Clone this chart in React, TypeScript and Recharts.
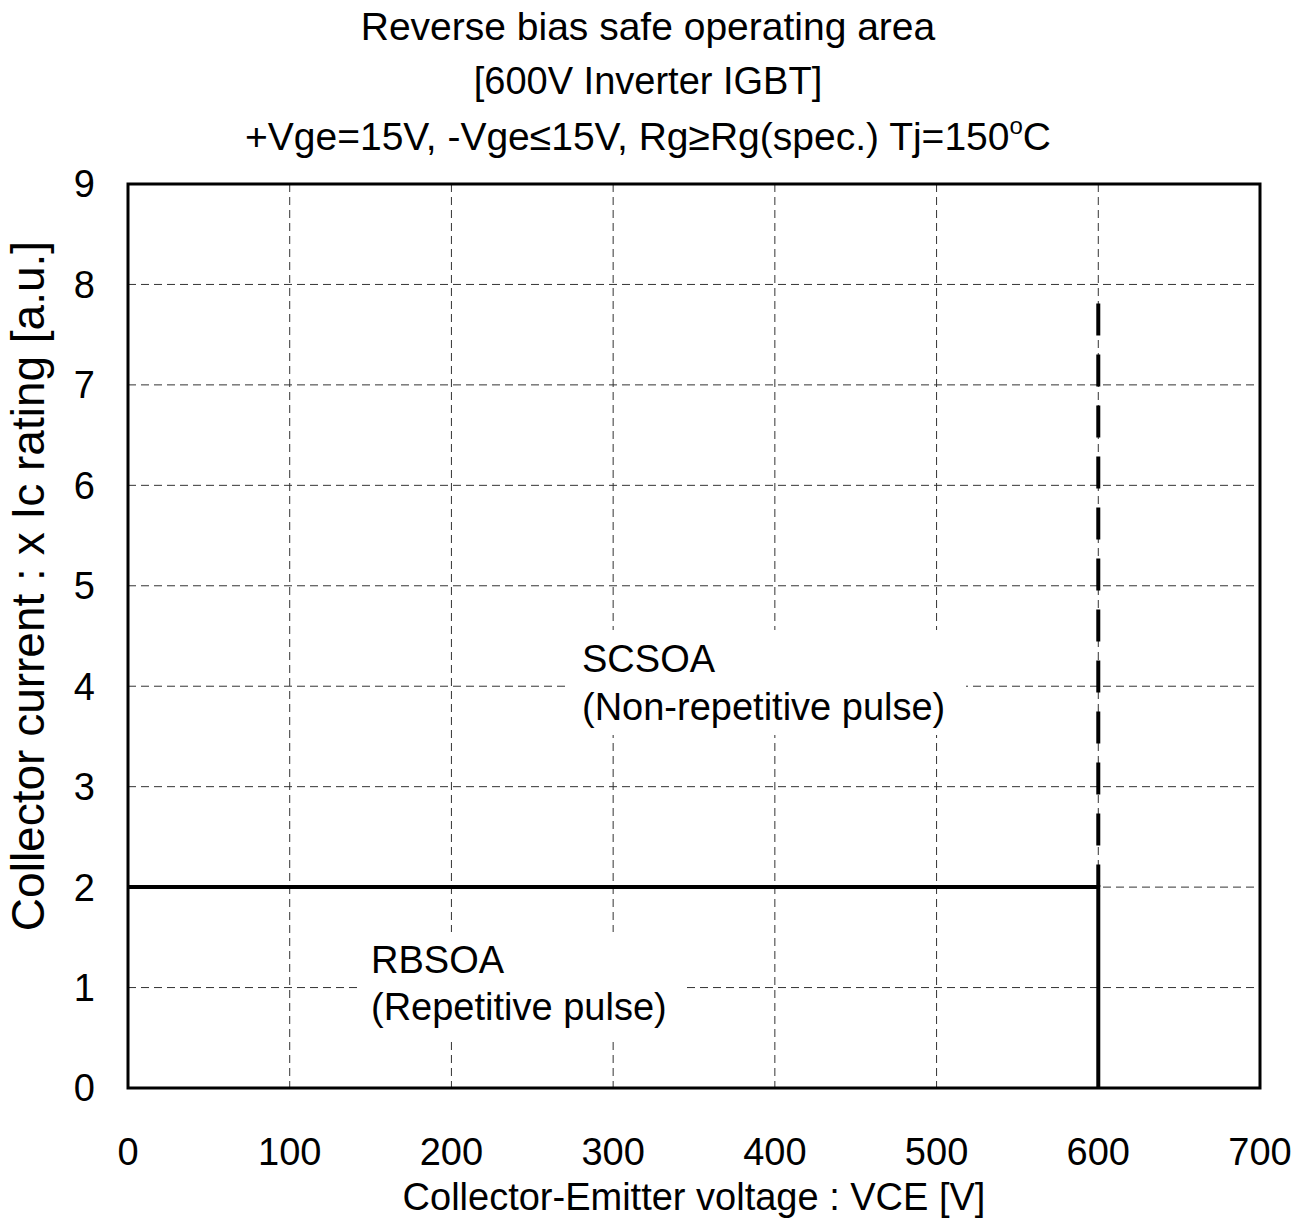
import { LineChart, Line, XAxis, YAxis, CartesianGrid, ReferenceArea, Customized } from 'recharts';

const xTicks = [0, 100, 200, 300, 400, 500, 600, 700];
const yTicks = [0, 1, 2, 3, 4, 5, 6, 7, 8, 9];

// RBSOA boundary (solid)
const rbsoa = [
    { x: 0, y: 2 },
    { x: 600, y: 2 },
    { x: 600, y: 0 },
];

// SCSOA boundary (dashed), drawn top-down
const scsoa = [
    { x: 600, y: 8 },
    { x: 600, y: 2 },
];

const titleLines = [
    'Reverse bias safe operating area',
    '[600V Inverter IGBT]',
];

const font = '"Liberation Sans", Arial, sans-serif';

function Annotations() {
    return (
        <g fontFamily={font} fill="#000">
            <text x={648} y={40} fontSize={39} textAnchor="middle">{titleLines[0]}</text>
            <text x={648} y={94} fontSize={38} textAnchor="middle">{titleLines[1]}</text>
            <text x={648} y={150} fontSize={39} textAnchor="middle">
                +Vge=15V, -Vge≤15V, Rg≥Rg(spec.) Tj=150
                <tspan fontSize={24} dy={-16}>o</tspan>
                <tspan dy={16}>C</tspan>
            </text>

            <rect x={566} y={630} width={400} height={105} fill="#fff" />
            <text x={582} y={672} fontSize={38}>SCSOA</text>
            <text x={582} y={720} fontSize={38}>(Non-repetitive pulse)</text>

            <rect x={362} y={932} width={323} height={106} fill="#fff" />
            <text x={371} y={973} fontSize={38}>RBSOA</text>
            <text x={371} y={1020} fontSize={38}>(Repetitive pulse)</text>

            <text x={694} y={1210} fontSize={38} textAnchor="middle">Collector-Emitter voltage : VCE [V]</text>
            <text
                x={44}
                y={586}
                fontSize={46}
                textAnchor="middle"
                transform="rotate(-90 44 586)"
            >
                Collector current : x Ic rating [a.u.]
            </text>
        </g>
    );
}

export default function App() {
    return (
        <div style={{ position: 'absolute', left: 0, top: 0, background: '#fff' }}>
            <LineChart
                width={1311}
                height={1232}
                margin={{ top: 184, right: 51, bottom: 0, left: 0 }}
            >
                <CartesianGrid
                    stroke="#333"
                    strokeWidth={1}
                    strokeDasharray="8 5"
                />
                <Customized component={Annotations} />
                <XAxis
                    type="number"
                    dataKey="x"
                    domain={[0, 700]}
                    ticks={xTicks}
                    height={144}
                    axisLine={false}
                    tickLine={false}
                    tickSize={0}
                    tickMargin={50}
                    tick={{ fontSize: 38, fill: '#000', fontFamily: font }}
                    allowDataOverflow
                />
                <YAxis
                    type="number"
                    dataKey="y"
                    domain={[0, 9]}
                    ticks={yTicks}
                    width={128}
                    axisLine={false}
                    tickLine={false}
                    tickSize={0}
                    tickMargin={33}
                    tick={{ fontSize: 38, fill: '#000', fontFamily: font }}
                    allowDataOverflow
                />
                <ReferenceArea
                    x1={0}
                    x2={700}
                    y1={0}
                    y2={9}
                    fill="none"
                    stroke="#000"
                    strokeWidth={3}
                    fillOpacity={0}
                />
                <Line
                    data={rbsoa}
                    dataKey="y"
                    type="linear"
                    stroke="#000"
                    strokeWidth={4}
                    dot={false}
                    isAnimationActive={false}
                />
                <Line
                    data={scsoa}
                    dataKey="y"
                    type="linear"
                    stroke="#000"
                    strokeWidth={4}
                    strokeDasharray="32 19"
                    strokeDashoffset={32}
                    dot={false}
                    isAnimationActive={false}
                />
            </LineChart>
        </div>
    );
}
